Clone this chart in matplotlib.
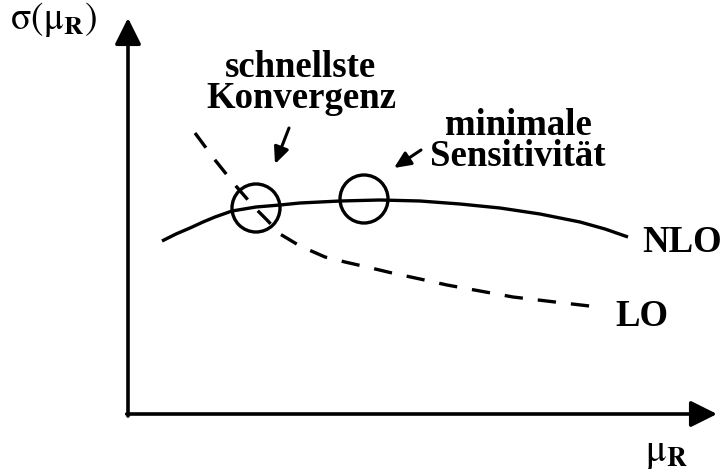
import matplotlib.pyplot as plt
from matplotlib.patches import Circle

# NLO curve (solid), figure pixel coordinates
nlo_x = [162, 176, 190, 203, 215, 232, 256, 280, 300, 320, 340, 380, 420, 460, 500, 540, 580, 605, 628]
nlo_y = [241, 234, 228, 222, 217, 211, 207, 205, 203, 202, 201, 200, 201, 204, 208, 214, 222, 229, 237]

# LO curve (dashed)
lo_x = [195, 215, 235, 255, 267, 280, 300, 325, 345, 367, 392, 420, 447, 480, 513, 555, 598]
lo_y = [133, 160, 185, 208, 220, 234, 246, 257, 262, 267, 273, 279, 285, 291, 297, 302, 307]

# marked points: fastest convergence, minimal sensitivity
circ_x = [256, 364]
circ_y = [208, 199]
circ_r = 24

fig = plt.figure(figsize=(7.22, 4.76), dpi=100)
ax = fig.add_axes([0, 0, 1, 1])
ax.set_xlim(0, 722)
ax.set_ylim(476, 0)
ax.axis('off')

lw = 2.4
ax.plot(nlo_x, nlo_y, color='black', lw=lw, solid_capstyle='butt')
ax.plot(lo_x, lo_y, color='black', lw=lw, dashes=(5.5, 4.5))

for cx, cy in zip(circ_x, circ_y):
    ax.add_patch(Circle((cx, cy), circ_r, fill=False, ec='black', lw=lw))

# axes with arrow heads
axis_style = '-|>,head_length=16,head_width=8'
ax.annotate('', xy=(128, 18), xytext=(128, 416),
            arrowprops=dict(arrowstyle=axis_style, color='black', lw=2.6,
                            shrinkA=0, shrinkB=0, mutation_scale=1))
ax.annotate('', xy=(717, 414), xytext=(126.7, 414),
            arrowprops=dict(arrowstyle=axis_style, color='black', lw=2.6,
                            shrinkA=0, shrinkB=0, mutation_scale=1))

# pointer arrows
ptr_style = '-|>,head_length=10,head_width=4.5'
ax.annotate('', xy=(275, 164), xytext=(289, 128),
            arrowprops=dict(arrowstyle=ptr_style, color='black', lw=2.2,
                            shrinkA=0, shrinkB=0, mutation_scale=1))
ax.annotate('', xy=(394, 168), xytext=(421, 150),
            arrowprops=dict(arrowstyle=ptr_style, color='black', lw=2.2,
                            shrinkA=0, shrinkB=0, mutation_scale=1))

plt.rcParams['mathtext.fontset'] = 'stix'
serif = 'Liberation Serif'
bold = dict(family=serif, weight='bold', fontsize=26.5, color='black',
            ha='center', va='baseline', multialignment='center', linespacing=0.85)

ax.text(301, 108, 'schnellste\nKonvergenz', **bold)
ax.text(518, 166, 'minimale\nSensitivität', **bold)
ax.text(642, 252, 'NLO', **dict(bold, ha='left'))
ax.text(615, 326, 'LO', **dict(bold, ha='left'))

ax.text(10, 29, r'$\mathrm{\sigma}(\mathrm{\mu}_{\mathbf{R}})$', ha='left', va='baseline',
        fontsize=27, color='black')
ax.text(645, 461, r'$\mathrm{\mu}_{\mathbf{R}}$', ha='left', va='baseline',
        fontsize=28, color='black')

fig.savefig('out.png', dpi=100)
